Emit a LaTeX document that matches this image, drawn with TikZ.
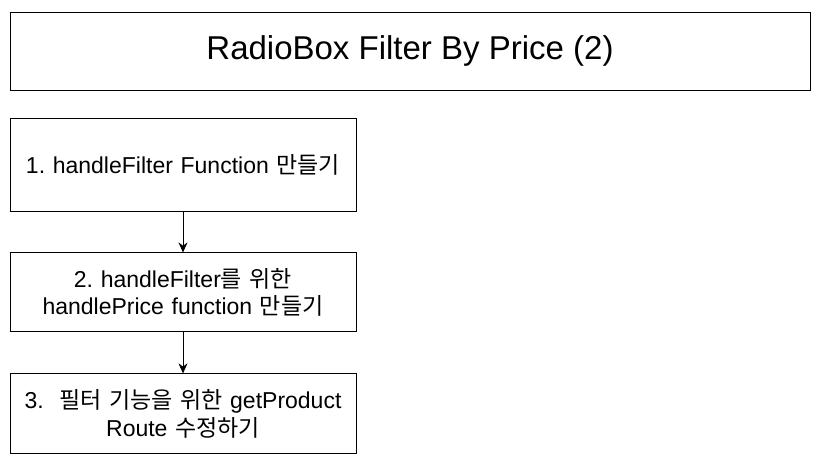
\documentclass[tikz,border=0pt]{standalone}
\usepackage{fontspec}
\setmainfont{Liberation Sans}
\newfontfamily\kr{Noto Sans CJK KR}
\usetikzlibrary{positioning,arrows.meta}
\frenchspacing

\begin{document}
\begin{tikzpicture}[x=1pt,y=1pt,
        box/.style={draw,rectangle,line width=0.9pt,minimum width=346pt,text width=336pt,align=center,font=\fontsize{23}{27.5}\selectfont},
        flow/.style={-{Stealth[length=10pt,width=9pt]},line width=0.8pt}]
    \useasboundingbox (0,0) rectangle (826,-468);
    \node (title) [draw,rectangle,line width=0.9pt,minimum width=800pt,minimum height=78pt,font=\fontsize{33}{38}\selectfont] at (410,-51) {RadioBox Filter By Price (2)};
    \node (step1) [box,minimum height=93pt] at (183,-164.5) {1. handleFilter Function {\kr 만들기}};
    \node (step2) [box,minimum height=79pt,below=41pt of step1] {2. handleFilter{\kr 를 위한} \\ handlePrice function {\kr 만들기}};
    \node (step3) [box,minimum height=80pt,below=41pt of step2] {3.\ \ {\kr 필터 기능을 위한} getProduct \\ Route {\kr 수정하기}};
    \draw [flow] (step1) -- (step2);
    \draw [flow] (step2) -- (step3);
\end{tikzpicture}
\end{document}
